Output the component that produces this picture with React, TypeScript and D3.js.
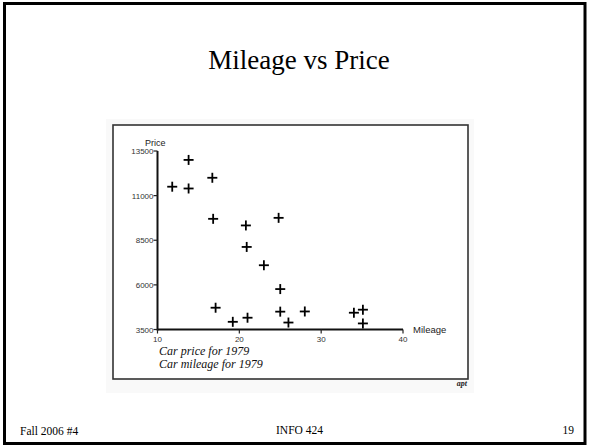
import React from "react";
import * as d3 from "d3";

const title = "Mileage vs Price";
const mileage = [11.8, 13.8, 13.8, 16.7, 16.8, 20.8, 20.9, 24.8, 23.0, 25.0, 17.1, 19.2, 21.0, 25.0, 26.0, 28.0, 34.0, 35.1, 35.1];
const price = [11500, 13000, 11400, 12000, 9700, 9330, 8125, 9755, 7100, 5765, 4720, 3930, 4160, 4500, 3890, 4510, 4440, 4610, 3840];
const xTicks = [10, 20, 30, 40];
const yTicks = [3500, 6000, 8500, 11000, 13500];
const captions = ["Car price for 1979", "Car mileage for 1979"];
const footer = { left: "Fall 2006 #4", center: "INFO 424", right: "19" };

export default function App() {
  const W = 589, H = 446;
  const x = d3.scaleLinear().domain([10, 40]).range([157.5, 403]);
  const y = d3.scaleLinear().domain([3500, 13500]).range([329.5, 151]);
  const sans = "'Liberation Sans', Arial, sans-serif";
  const serif = "'Liberation Serif', 'Times New Roman', serif";
  const pts = mileage.map((m, i) => ({ m, p: price[i] }));
  const s = 5;
  return (
    <svg width={W} height={H} style={{ position: "fixed", left: 0, top: 0, background: "#fff" }}>
      <rect x={0} y={0} width={W} height={H} fill="#fff" />
      <rect x={4.5} y={3.5} width={580.5} height={440} fill="none" stroke="#000" strokeWidth={3} />
      <text x={299} y={69} textAnchor="middle" fontFamily={serif} fontSize={27} fill="#000">{title}</text>

      <rect x={106} y={119} width={368} height={274} fill="#f9f9f9" />
      <rect x={113} y={125} width={355} height={254} fill="#fff" stroke="#333" strokeWidth={1.6} />

      {/* axes */}
      <line x1={x(10)} x2={x(10)} y1={y(13500)} y2={y(3500) + 1} stroke="#111" strokeWidth={2} />
      <line x1={x(10)} x2={x(40)} y1={y(3500)} y2={y(3500)} stroke="#111" strokeWidth={2} />
      {yTicks.map((t) => (
        <g key={"y" + t}>
          <line x1={x(10) - 4} x2={x(10)} y1={y(t)} y2={y(t)} stroke="#222" strokeWidth={1.2} />
          <text x={x(10) - 4} y={y(t) + 3} textAnchor="end" fontFamily={sans} fontSize={8} fill="#333">{t}</text>
        </g>
      ))}
      {xTicks.map((t) => (
        <g key={"x" + t}>
          <line x1={x(t)} x2={x(t)} y1={y(3500)} y2={y(3500) + 4} stroke="#222" strokeWidth={1.2} />
          <text x={x(t)} y={y(3500) + 12.5} textAnchor="middle" fontFamily={sans} fontSize={8} fill="#333">{t}</text>
        </g>
      ))}
      <text x={145} y={146} fontFamily={sans} fontSize={9} fill="#222">Price</text>
      <text x={413} y={333} fontFamily={sans} fontSize={9.5} fill="#222">Mileage</text>

      {pts.map((d, i) => (
        <g key={i} stroke="#000" strokeWidth={1.8}>
          <line x1={x(d.m) - s} x2={x(d.m) + s} y1={y(d.p)} y2={y(d.p)} />
          <line x1={x(d.m)} x2={x(d.m)} y1={y(d.p) - s} y2={y(d.p) + s} />
        </g>
      ))}

      {captions.map((c, i) => (
        <text key={c} x={159} y={355 + i * 13} fontFamily={serif} fontStyle="italic" fontSize={12} fill="#111">{c}</text>
      ))}
      <text x={467} y={386} textAnchor="end" fontFamily={serif} fontStyle="italic" fontWeight="bold" fontSize={8} fill="#222">apt</text>

      <text x={20} y={435} fontFamily={serif} fontSize={11.5} fill="#000">{footer.left}</text>
      <text x={299.5} y={434} textAnchor="middle" fontFamily={serif} fontSize={11.5} fill="#000">{footer.center}</text>
      <text x={574} y={434} textAnchor="end" fontFamily={serif} fontSize={11.5} fill="#000">{footer.right}</text>
    </svg>
  );
}
